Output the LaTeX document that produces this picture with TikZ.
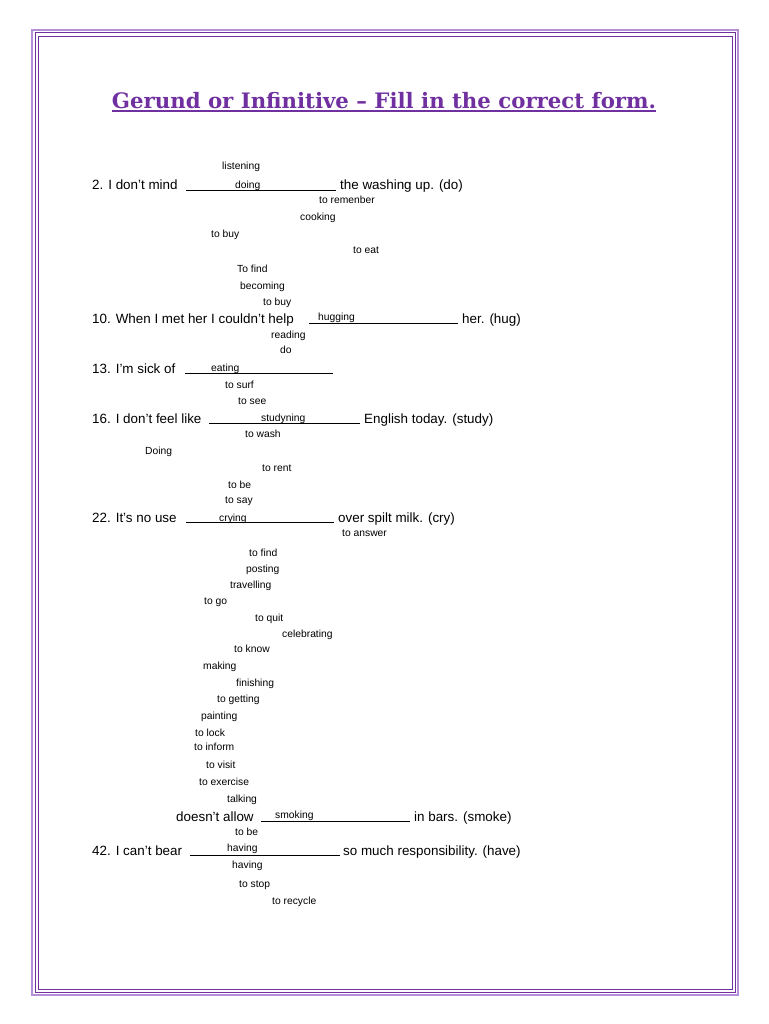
\documentclass[tikz,border=0pt]{standalone}
\usepackage{fontspec}
\setmainfont{Liberation Sans}
\newfontfamily\titlefont{DejaVu Serif}
\definecolor{tpurple}{HTML}{7030A0}
\definecolor{lpurple}{HTML}{B48ED6}
\begin{document}
\begin{tikzpicture}[x=1pt,y=-1pt,
  big/.style={anchor=base west,inner sep=0pt,font=\fontsize{13.4}{15}\selectfont},
  sm/.style={anchor=base west,inner sep=0pt,font=\fontsize{10.3}{12}\selectfont},
  blank/.style={line width=0.8pt}]
\useasboundingbox (0,0) rectangle (768,1024);
\fill[white] (0,0) rectangle (768,1024);
\draw[lpurple,line width=1.5pt] (32,30) rectangle (738,995);
\draw[tpurple,line width=1pt] (35,33) rectangle (735,992);
\draw[tpurple,line width=0.6pt] (38,36) rectangle (732,989);
\node[inner sep=0pt,text=tpurple] (title) at (384,101) {\resizebox{544pt}{!}{\titlefont\bfseries Gerund or Infinitive – Fill in the correct form.}};
\draw[tpurple,line width=1.3pt] (112,111) -- (656,111);
\node[sm] (w1) at (222,170) {listening};
\node[big] (s2a) at (92,190) {2. I don't mind};
\draw[blank] (186,190) -- (336,190);
\node[sm] (a2) at (235,189) {doing};
\node[big] (s2b) at (340,190) {the washing up. (do)};
\node[sm] (w2) at (319,204) {to remenber};
\node[sm] (w3) at (300,221) {cooking};
\node[sm] (w4) at (211,237) {to buy};
\node[sm] (w5) at (353,253) {to eat};
\node[sm] (w6) at (237,272) {To find};
\node[sm] (w7) at (240,289) {becoming};
\node[sm] (w8) at (263,305) {to buy};
\node[big] (s10a) at (92,323) {10. When I met her I couldn't help};
\draw[blank] (309,323) -- (458,323);
\node[sm] (a10) at (318,320) {hugging};
\node[big] (s10b) at (462,323) {her. (hug)};
\node[sm] (w9) at (271,338) {reading};
\node[sm] (w10) at (280,353) {do};
\node[big] (s13a) at (92,373) {13. I'm sick of};
\draw[blank] (185,373) -- (333,373);
\node[sm] (a13) at (211,371) {eating};
\node[sm] (w11) at (225,388) {to surf};
\node[sm] (w12) at (238,404) {to see};
\node[big] (s16a) at (92,423) {16. I don't feel like};
\draw[blank] (209,423) -- (360,423);
\node[sm] (a16) at (261,421) {studyning};
\node[big] (s16b) at (364,423) {English today. (study)};
\node[sm] (w13) at (245,437) {to wash};
\node[sm] (w14) at (145,454) {Doing};
\node[sm] (w15) at (262,471) {to rent};
\node[sm] (w16) at (228,488) {to be};
\node[sm] (w17) at (225,503) {to say};
\node[big] (s22a) at (92,522) {22. It's no use};
\draw[blank] (186,522) -- (334,522);
\node[sm] (a22) at (219,521) {crying};
\node[big] (s22b) at (338,522) {over spilt milk. (cry)};
\node[sm] (w18) at (342,536) {to answer};
\node[sm] (w19) at (249,556) {to find};
\node[sm] (w20) at (246,572) {posting};
\node[sm] (w21) at (230,588) {travelling};
\node[sm] (w22) at (204,604) {to go};
\node[sm] (w23) at (255,621) {to quit};
\node[sm] (w24) at (282,637) {celebrating};
\node[sm] (w25) at (234,652) {to know};
\node[sm] (w26) at (203,669) {making};
\node[sm] (w27) at (236,686) {finishing};
\node[sm] (w28) at (217,702) {to getting};
\node[sm] (w29) at (201,719) {painting};
\node[sm] (w30) at (195,736) {to lock};
\node[sm] (w31) at (194,750) {to inform};
\node[sm] (w32) at (206,768) {to visit};
\node[sm] (w33) at (199,785) {to exercise};
\node[sm] (w34) at (227,802) {talking};
\node[big] (s38a) at (176,821) {doesn't allow};
\draw[blank] (261,821) -- (410,821);
\node[sm] (a38) at (275,818) {smoking};
\node[big] (s38b) at (414,821) {in bars. (smoke)};
\node[sm] (w35) at (235,835) {to be};
\node[big] (s42a) at (92,855) {42. I can't bear};
\draw[blank] (190,855) -- (340,855);
\node[sm] (a42) at (227,851) {having};
\node[big] (s42b) at (343,855) {so much responsibility. (have)};
\node[sm] (w36) at (232,868) {having};
\node[sm] (w37) at (239,887) {to stop};
\node[sm] (w38) at (272,904) {to recycle};
\end{tikzpicture}
\end{document}
